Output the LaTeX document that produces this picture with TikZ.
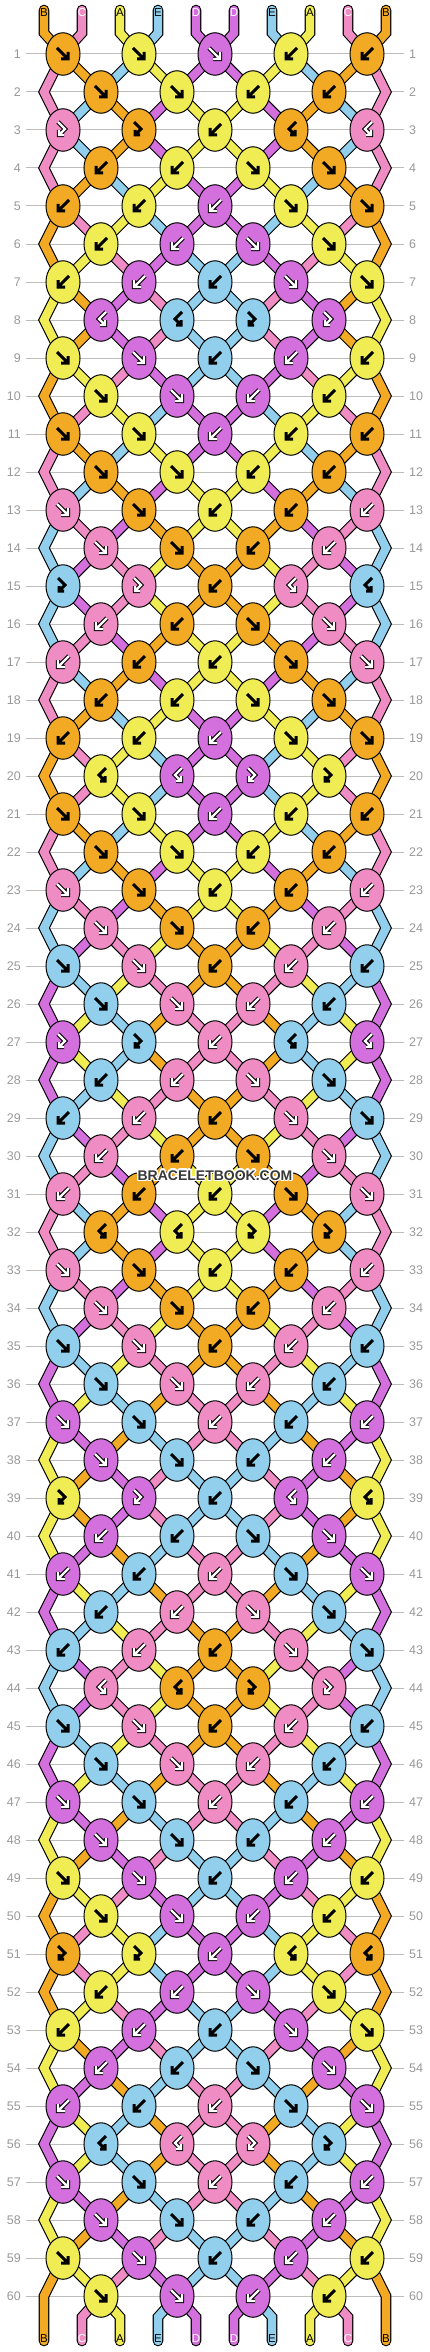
\documentclass[tikz,border=0pt]{standalone}
\usepackage{fontspec}
\setmainfont{Liberation Sans}
\usepackage{contour}
\usetikzlibrary{shapes.geometric}

\definecolor{strA}{HTML}{F0EC54}
\definecolor{strB}{HTML}{F2AA25}
\definecolor{strC}{HTML}{F08CC4}
\definecolor{strD}{HTML}{D46FDE}
\definecolor{strE}{HTML}{91CFEC}
\definecolor{rowgrey}{HTML}{999999}
\definecolor{linegrey}{HTML}{BDBDBD}
\def\inkA{black}\def\inkB{black}\def\inkC{white}\def\inkD{white}\def\inkE{black}
\def\inkwhite{white}

\tikzset{
  threadedge/.style={line width=10.6pt, black, line cap=round},
  thread/.style={line width=8.4pt, line cap=round},
  knot/.style={ellipse, draw=black, line width=1pt, minimum width=34pt, minimum height=42.5pt, inner sep=0pt},
  arrowblack/.style={line width=3pt, black},
  arrowout/.style={line width=4.4pt, black},
  arrowin/.style={line width=2.2pt, white},
  rownum/.style={text=rowgrey, inner sep=0pt, font=\fontsize{12.5}{12.5}\selectfont},
  strlabel/.style={inner sep=0pt, font=\fontsize{11.5}{11.5}\selectfont},
}

% arrows: f forward, b backward, F forward-backward, B backward-forward
\def\arrf{(-6,-6) -- (5,5) (5,-2) -- (5,5) -- (-2,5)}
\def\arrb{(6,-6) -- (-5,5) (-5,-2) -- (-5,5) -- (2,5)}
\def\arrF{(-5,-8) -- (2,-1) -- (-4,5) (-4,0) -- (-4,5) -- (1,5)}
\def\arrB{(5,-8) -- (-2,-1) -- (4,5) (4,0) -- (4,5) -- (-1,5)}

\newcommand\setst[2]{\expandafter\xdef\csname st#1\endcsname{#2}}
\newcommand\setlp[2]{\expandafter\xdef\csname lp#1\endcsname{#2}}

% pass 1: thread outlines, pass 2: thread colours, pass 3: knots and labels
\newcommand\thread[3]{% colour, path so far, end point
  \ifnum\pass<3
    \edef\tmp{\noexpand\draw[\ifnum\pass=1 threadedge\else thread,str#1\fi] #2 -- (#3.center);}\tmp
  \fi}

\newcommand\knotarrow[3]{% node, type, colour
  \edef\ink{\csname ink#3\endcsname}%
  \begin{scope}[shift={(#1.center)}]
    \ifx\ink\inkwhite
      \edef\tmp{\noexpand\draw[arrowout] \csname arr#2\endcsname; \noexpand\draw[arrowin] \csname arr#2\endcsname;}\tmp
    \else
      \edef\tmp{\noexpand\draw[arrowblack] \csname arr#2\endcsname;}\tmp
    \fi
  \end{scope}}

\newcommand\doknot[3]{% row, left string, type
  \pgfmathtruncatemacro\pq{#2+1}%
  \pgfmathsetmacro\kx{63+38*#2}%
  \pgfmathsetmacro\ky{54+38*(#1-1)}%
  \edef\colL{\csname st#2\endcsname}%
  \edef\colR{\csname st\pq\endcsname}%
  \if#3f\edef\kc{\colL}\setst{#2}{\colR}\setst{\pq}{\colL}\fi
  \if#3b\edef\kc{\colR}\setst{#2}{\colR}\setst{\pq}{\colL}\fi
  \if#3F\edef\kc{\colL}\fi
  \if#3B\edef\kc{\colR}\fi
  \ifnum\pass<3
    \coordinate (k#1-#2) at (\kx,\ky);
    \thread{\colL}{\csname lp#2\endcsname}{k#1-#2}%
    \thread{\colR}{\csname lp\pq\endcsname}{k#1-#2}%
  \else
    \edef\tmp{\noexpand\node[knot,fill=str\kc] (k#1-#2) at (\kx,\ky) {};}\tmp
    \knotarrow{k#1-#2}{#3}{\kc}%
  \fi
  \setlp{#2}{(k#1-#2.center)}\setlp{\pq}{(k#1-#2.center)}}

\newcommand\doedge[2]{% row, outer string
  \pgfmathsetmacro\ex{44+38*#2}%
  \pgfmathsetmacro\ky{54+38*(#1-1)}%
  \coordinate (e#1-#2) at (\ex,\ky);
  \setlp{#2}{\csname lp#2\endcsname -- (e#1-#2)}}

% knot rows
\def\blk{{f,f,b,b,b},{f,f,b,b},{f,f,b,b,b},{f,f,b,b},{f,f,b,b,b},{f,f,b,b},
  {F,F,b,B,B},{b,b,f,f},{b,b,b,f,f},{b,b,f,f},{b,b,b,f,f},{B,B,F,F}}
\edef\rows{{f,f,f,b,b},{f,f,b,b},{F,F,b,B,B},{b,b,f,f},{b,b,b,f,f},{b,b,f,f},{b,b,b,f,f},{B,B,F,F},
  \blk,\blk,\blk,\blk,{f,f,b,b,b},{f,f,b,b},{f,f,b,b,b},{f,f,b,b}}

\newcommand\weave{%
  % strings at the top
  \foreach \c [count=\i from 0] in {B,C,A,E,D,D,E,A,C,B}{
    \pgfmathsetmacro\sx{44+38*\i}
    \coordinate (a\i) at (\sx,10);
    \coordinate (c\i) at (\sx,33);
    \ifnum\pass=3
      \edef\ink{\csname ink\c\endcsname}
      \node[strlabel,text=\ink] (top\i) at (\sx,13) {\c};
    \fi
    \setst{\i}{\c}\setlp{\i}{(a\i) -- (c\i)}
  }
  % knots
  \foreach \t [count=\r] in \rows {
    \foreach \k [count=\j from 0] in \t {
      \pgfmathtruncatemacro\p{2*\j+1-mod(\r,2)}
      \doknot{\r}{\p}{\k}
    }
    \ifodd\r\else\doedge{\r}{0}\doedge{\r}{9}\fi
  }
  % strings at the bottom
  \foreach \i in {0,...,9}{
    \pgfmathsetmacro\sx{44+38*\i}
    \coordinate (u\i) at (\sx,2317);
    \coordinate (z\i) at (\sx,2341);
    \edef\c{\csname st\i\endcsname}
    \thread{\c}{\csname lp\i\endcsname -- (u\i.center)}{z\i}
    \ifnum\pass=3
      \edef\ink{\csname ink\c\endcsname}
      \node[strlabel,text=\ink] (bot\i) at (\sx,2339) {\c};
    \fi
  }}

\begin{document}
\begin{tikzpicture}[x=1pt,y=-1pt]
\useasboundingbox (0,0) rectangle (430,2352);

% row numbers and lines
\foreach \r in {1,...,60}{
  \pgfmathsetmacro\ry{54+38*(\r-1)}
  \node[rownum,anchor=east] (nl\r) at (21,\ry) {\r};
  \node[rownum,anchor=west] (nr\r) at (409,\ry) {\r};
  \draw[linegrey,line width=1pt] ([xshift=5pt]nl\r.east) -- ([xshift=-5pt]nr\r.west);
}

\def\pass{1}\weave
\def\pass{2}\weave
\def\pass{3}\weave

\node[text=black!78,font=\bfseries\fontsize{14}{14}\selectfont] (mark) at (215,1176)
  {\contourlength{1.3pt}\contour{white}{BRACELETBOOK.COM}};
\end{tikzpicture}
\end{document}
